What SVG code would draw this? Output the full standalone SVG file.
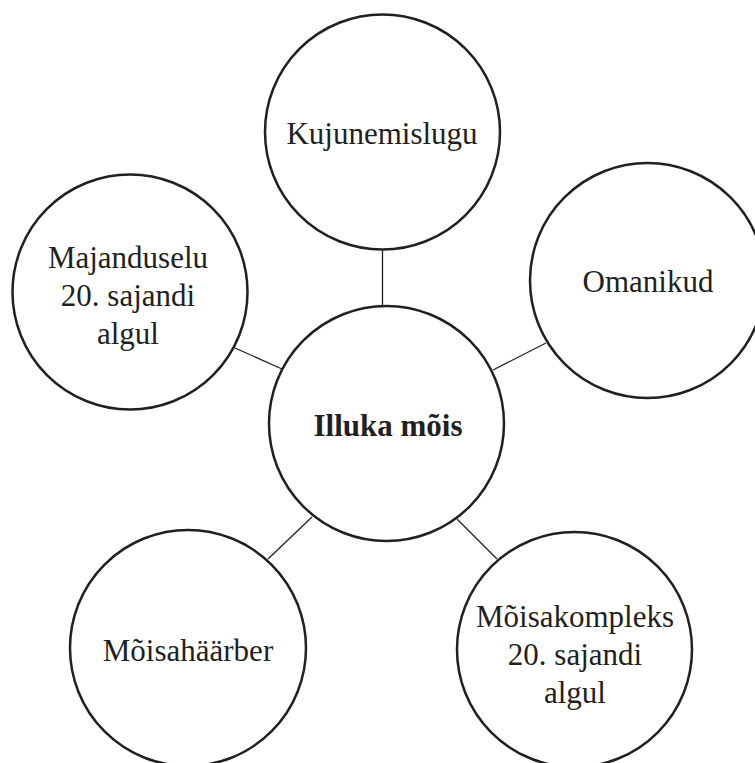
<svg xmlns="http://www.w3.org/2000/svg" width="755" height="763" viewBox="0 0 755 763">
<style>
.node{fill:#fff;stroke:#231f20;stroke-width:2.5}
.lbl{font-family:"Liberation Serif","Times New Roman",serif;font-size:31px;fill:#231f20;text-anchor:middle}
.b{font-weight:bold}
.conn line{stroke:#231f20;stroke-width:1.3}
</style>
<rect width="755" height="763" fill="#fff"/>
<g id="connectors" class="conn">
<line x1="382.5" y1="249" x2="382.5" y2="306"/>
<line x1="235" y1="348" x2="282" y2="369"/>
<line x1="493" y1="370" x2="546" y2="343"/>
<line x1="268" y1="559" x2="312" y2="517"/>
<line x1="457" y1="519" x2="497" y2="559"/>
</g>
<g id="center">
<circle class="node" cx="386.5" cy="423.5" r="117.5"/>
<text class="lbl b" x="388" y="436">Illuka mõis</text>
</g>
<g id="kujunemislugu">
<circle class="node" cx="382.5" cy="132" r="117.5"/>
<text class="lbl" x="382" y="144">Kujunemislugu</text>
</g>
<g id="majanduselu">
<circle class="node" cx="130" cy="292" r="117.5"/>
<text class="lbl" x="128" y="268">Majanduselu</text>
<text class="lbl" x="128" y="306">20. sajandi</text>
<text class="lbl" x="128" y="344">algul</text>
</g>
<g id="omanikud">
<circle class="node" cx="647.5" cy="280.5" r="117.5"/>
<text class="lbl" x="648" y="292">Omanikud</text>
</g>
<g id="moisaharber">
<circle class="node" cx="188" cy="648" r="118"/>
<text class="lbl" x="188" y="661">Mõisahäärber</text>
</g>
<g id="moisakompleks">
<circle class="node" cx="574.5" cy="649.5" r="117.5"/>
<text class="lbl" x="575" y="627">Mõisakompleks</text>
<text class="lbl" x="575" y="665">20. sajandi</text>
<text class="lbl" x="575" y="703">algul</text>
</g>
</svg>
